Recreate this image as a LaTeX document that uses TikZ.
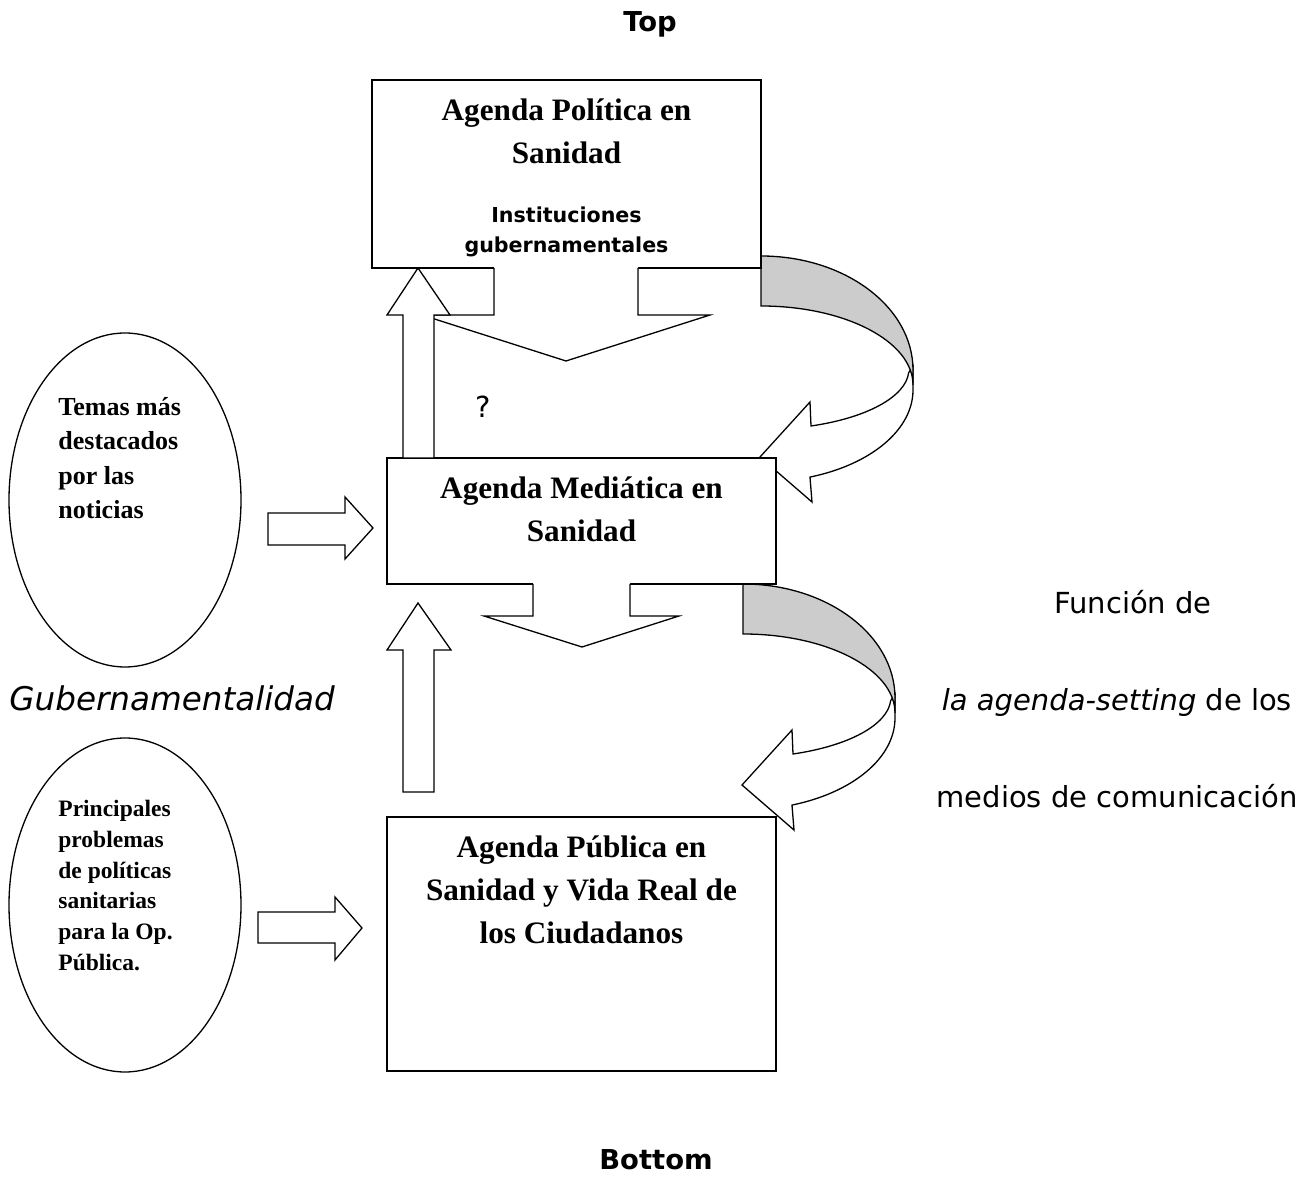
\documentclass[tikz,border=0pt]{standalone}
\usepackage{fontspec}
\setmainfont{Liberation Serif}
\newfontfamily\verdana{DejaVu Sans}
\definecolor{bandgray}{RGB}{204,204,204}
\tikzset{
  outl/.style={draw=black, line width=0.65pt, fill=white},
  band/.style={draw=black, line width=0.65pt, fill=bandgray},
  boxtitle/.style={font=\bfseries\fontsize{15.6}{21.5}\selectfont, align=center, inner sep=0pt, anchor=north},
  instext/.style={font=\verdana\bfseries\fontsize{10.3}{15}\selectfont, align=center, inner sep=0pt, anchor=north},
  ovaltext/.style={align=left, inner sep=0pt, anchor=north west},
  sidetext/.style={font=\verdana\fontsize{14.5}{17}\selectfont, inner sep=0pt, anchor=base},
  headtext/.style={font=\verdana\bfseries\fontsize{13.7}{16}\selectfont, inner sep=0pt, anchor=base}
}

\begin{document}
\begin{tikzpicture}[x=0.5pt, y=-0.5pt]
\useasboundingbox (0,0) rectangle (1314,1197);

% Curved arrows (agenda-setting)
\foreach \ox/\oy in {761/256, 743/584}{
  \begin{scope}[shift={(\ox,\oy)}]
    \path[outl] (152,110) -- (152,134)
      arc[start angle=0, end angle=71.2, x radius=152, y radius=92]
      -- (51,246) -- (-1,201) -- (49,146) -- (50,170)
      arc[start angle=70.2, end angle=3, x radius=148, y radius=60] -- cycle;
    \path[band] (0,0) arc[start angle=-90, end angle=0, x radius=152, y radius=114]
      -- (152,129) arc[start angle=0, end angle=-90, x radius=152, y radius=79] -- cycle;
  \end{scope}
}

% Boxes
\draw[outl] (372,80) rectangle (761,268);
\draw[outl] (387,458) rectangle (776,584);
\draw[outl] (387,817) rectangle (776,1071);

% Down arrows
\fill[white] (494,266) -- (494,315) -- (422,315) -- (566,361) -- (710,315) -- (638,315) -- (638,266) -- cycle;
\draw[line width=0.65pt] (494,268) -- (494,315) -- (422,315) -- (566,361) -- (710,315) -- (638,315) -- (638,268);
\fill[white] (533,582) -- (533,616) -- (484,616) -- (582,647) -- (679,616) -- (630,616) -- (630,582) -- cycle;
\draw[line width=0.65pt] (533,584) -- (533,616) -- (484,616) -- (582,647) -- (679,616) -- (630,616) -- (630,584);

% Up arrows
\path[outl] (403,458) -- (403,315) -- (387,315) -- (418,268) -- (450,315) -- (434,315) -- (434,458) -- cycle;
\path[outl] (403,792) -- (403,650) -- (387,650) -- (418,603) -- (451,650) -- (434,650) -- (434,792) -- cycle;

% Right arrows
\path[outl] (268,513) -- (345,513) -- (345,497) -- (373,528) -- (345,559) -- (345,545) -- (268,545) -- cycle;
\path[outl] (258,912) -- (335,912) -- (335,897) -- (362,928) -- (335,960) -- (335,943) -- (258,943) -- cycle;

% Ovals
\draw[outl] (125,500) ellipse [x radius=116, y radius=167];
\draw[outl] (125,905) ellipse [x radius=116, y radius=167];

% Labels
\node[headtext] (top) at (650,32) {Top};
\node[headtext] (bottom) at (656,1170) {Bottom};
\node[boxtitle] (politica) at (566.5,98) {Agenda Política en\\Sanidad};
\node[instext] (instituciones) at (566.5,206) {Instituciones\\gubernamentales};
\node[boxtitle] (mediatica) at (581.5,476) {Agenda Mediática en\\Sanidad};
\node[boxtitle] (publica) at (581.5,835) {Agenda Pública en\\Sanidad y Vida Real de\\los Ciudadanos};
\node[ovaltext, font=\bfseries\fontsize{13}{17.25}\selectfont] (temas) at (58,397) {Temas más\\destacados\\por las\\noticias};
\node[ovaltext, font=\bfseries\fontsize{11.75}{15.35}\selectfont] (problemas) at (58,800) {Principales\\problemas\\de políticas\\sanitarias\\para la Op.\\Pública.};
\node[sidetext] (interrogante) at (483,418) {?};
\node[sidetext, anchor=base west, font=\verdana\itshape\fontsize{16.3}{19}\selectfont] (guber) at (9,711) {Gubernamentalidad};
\node[sidetext] (funcion) at (1133,614) {Función de};
\node[sidetext] (setting) at (1117,711) {\textit{la agenda-setting} de los};
\node[sidetext] (medios) at (1117,808) {medios de comunicación};
\end{tikzpicture}
\end{document}
